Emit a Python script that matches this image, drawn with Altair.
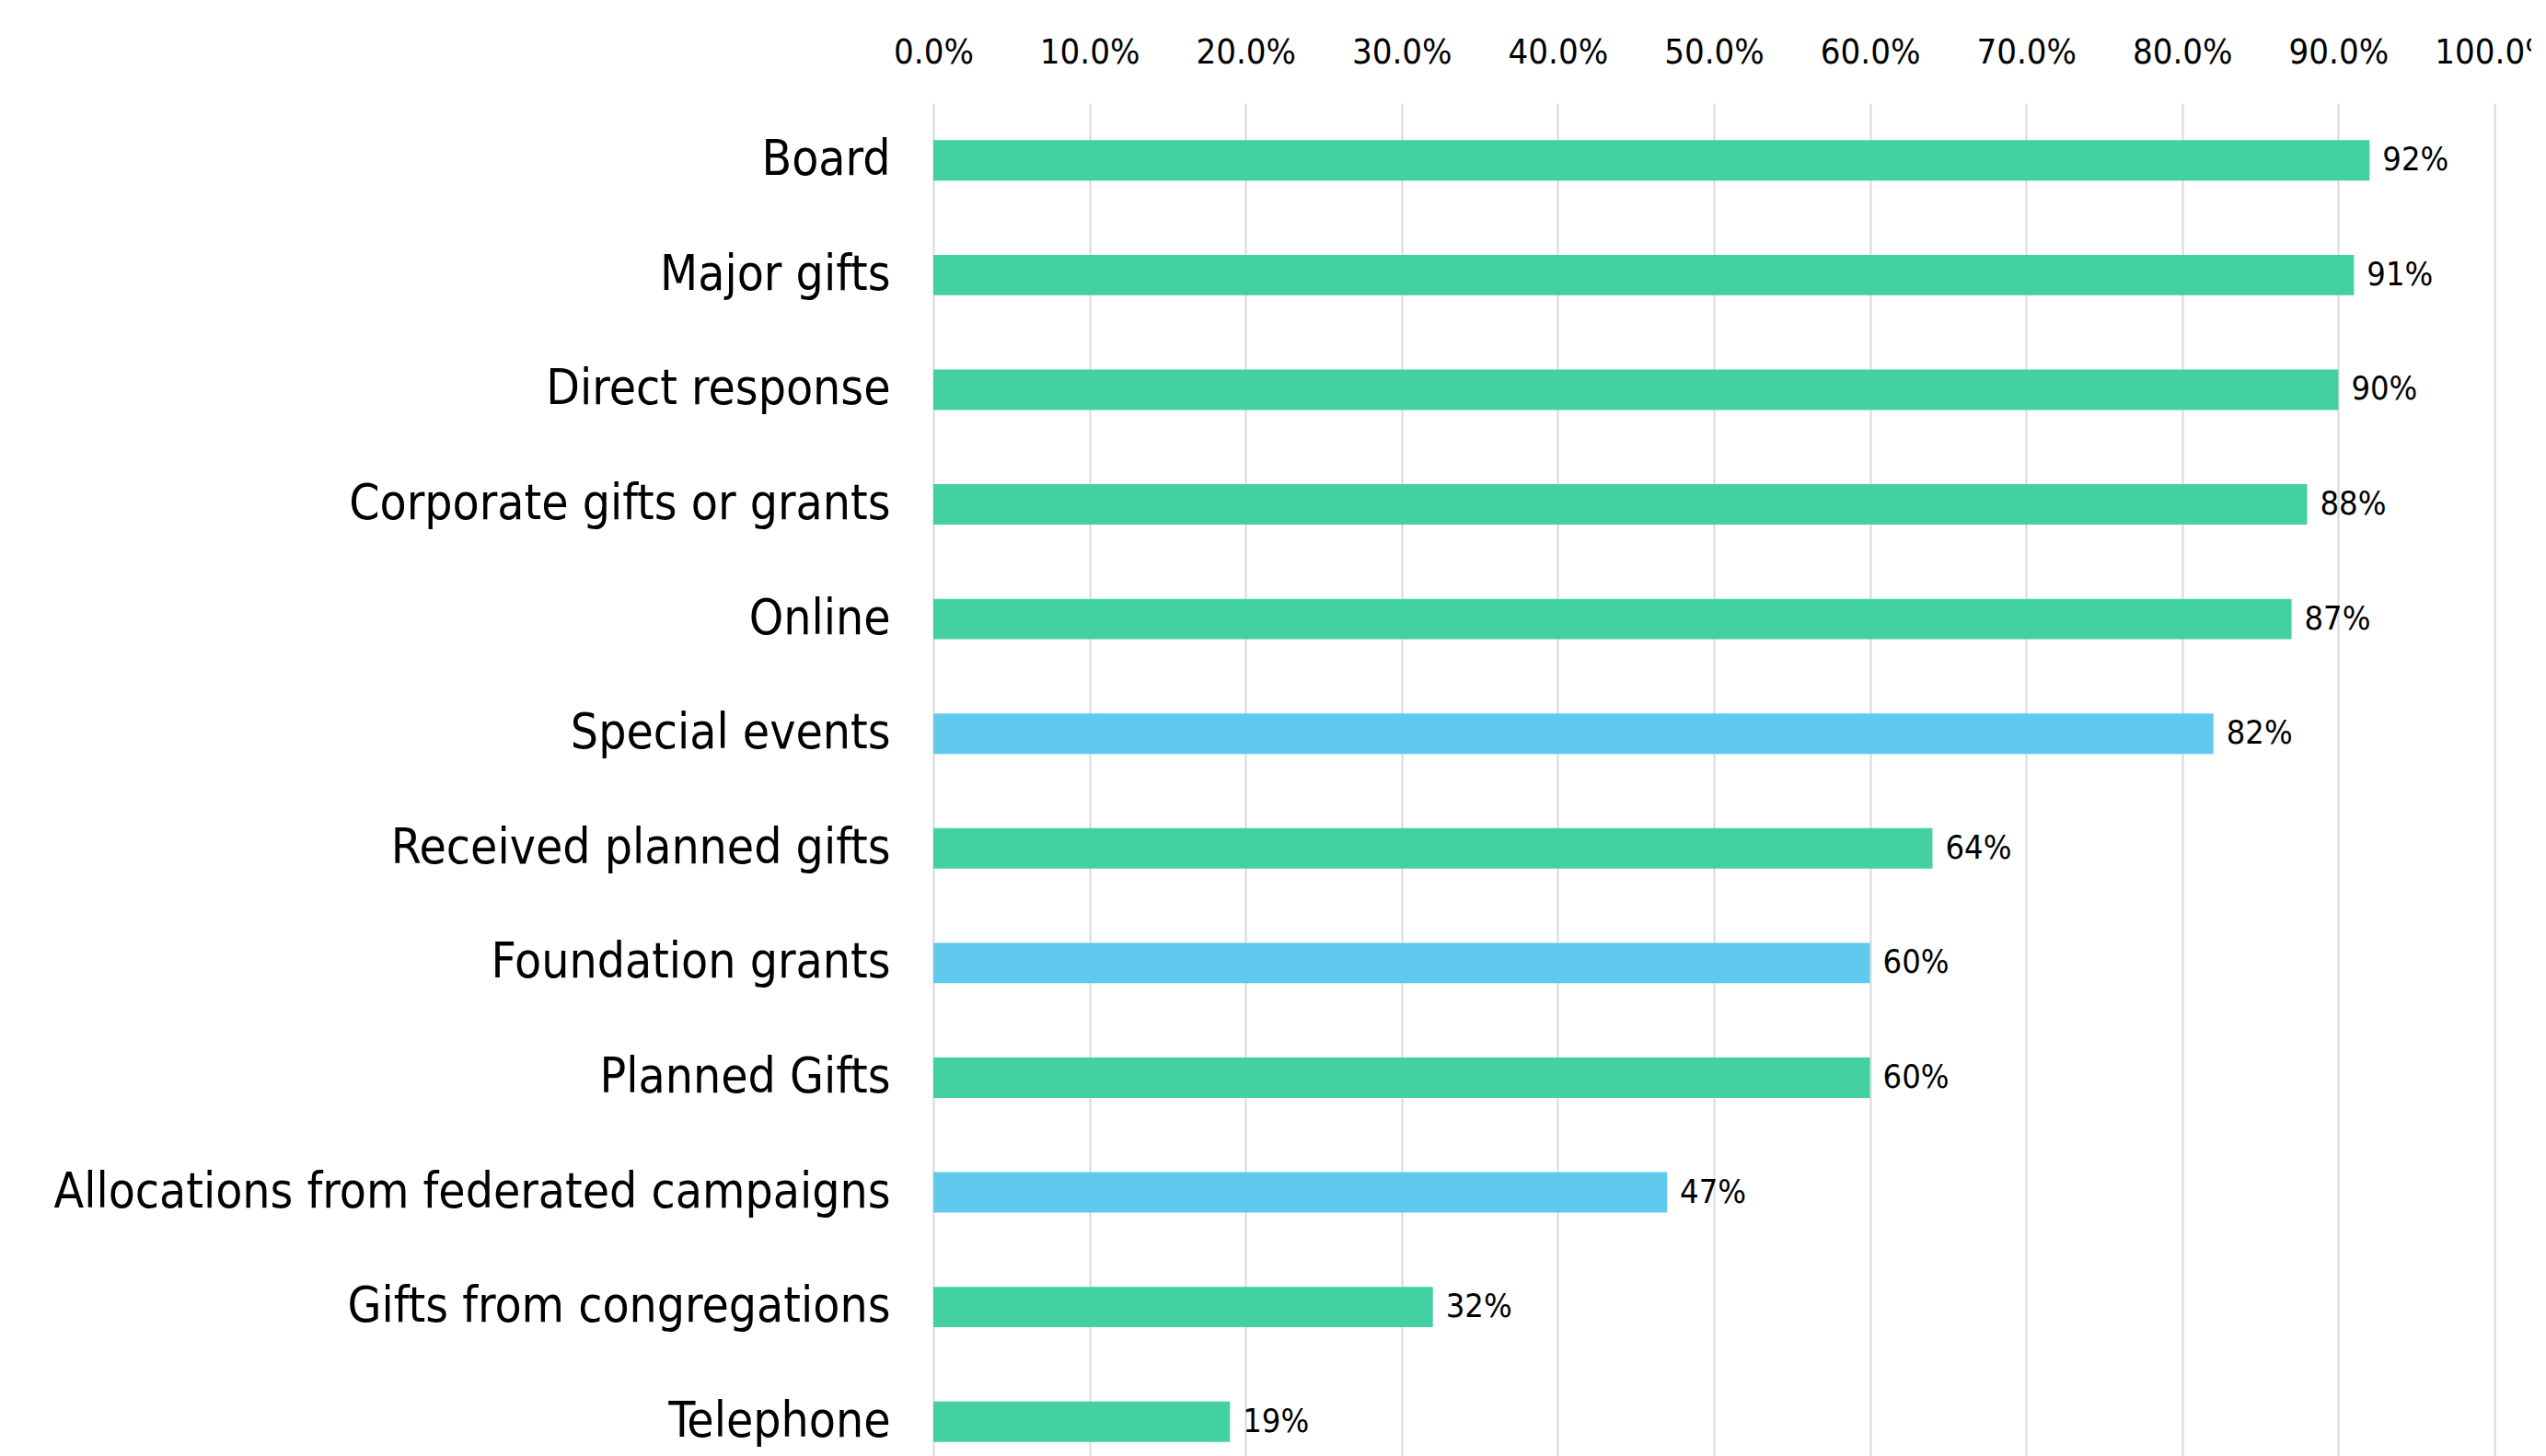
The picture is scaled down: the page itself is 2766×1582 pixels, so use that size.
import altair as alt
import pandas as pd

categories = [
    "Board", "Major gifts", "Direct response", "Corporate gifts or grants",
    "Online", "Special events", "Received planned gifts", "Foundation grants",
    "Planned Gifts", "Allocations from federated campaigns",
    "Gifts from congregations", "Telephone",
]
values = [92, 91, 90, 88, 87, 82, 64, 60, 60, 47, 32, 19]
groups = ["a", "a", "a", "a", "a", "b", "a", "b", "a", "b", "a", "a"]
tick_values = [0, 0.1, 0.2, 0.3, 0.4, 0.5, 0.6, 0.7, 0.8, 0.9, 1.0]

df = pd.DataFrame({
    "cat": categories,
    "val": [v / 100 for v in values],
    "label": [f"{v}%" for v in values],
    "grp": groups,
})

FONT = "DejaVu Sans Condensed, sans-serif"

y_enc = alt.Y("cat:N", sort=categories,
              scale=alt.Scale(paddingInner=0.647, paddingOuter=0.3235),
              axis=alt.Axis(title=None, labelFont=FONT, labelFontSize=53,
                            labelColor="black", labelPadding=47, ticks=False,
                            domain=False, grid=False, labelLimit=2000))
x_enc = alt.X("val:Q", scale=alt.Scale(domain=[0, 1], nice=False),
              axis=alt.Axis(orient="top", title=None, format=".1%",
                            values=tick_values, labelFont=FONT,
                            labelFontSize=38, labelColor="black",
                            labelPadding=36, ticks=False, domain=False,
                            grid=True, gridColor="#d9d9d9", gridWidth=2,
                            labelFlush=False))

bars = alt.Chart(df).mark_bar().encode(
    y=y_enc, x=x_enc,
    color=alt.Color("grp:N", scale=alt.Scale(domain=["a", "b"],
                                             range=["#43D1A3", "#60CAEE"]),
                    legend=None),
)

text = alt.Chart(df).mark_text(align="left", baseline="middle", dx=14,
                               font=FONT, fontSize=36, color="black").encode(
    y=alt.Y("cat:N", sort=categories), x="val:Q", text="label:N"
)

chart = (bars + text).properties(
    width=1696, height=1495,
    padding={"left": 1006, "top": 104, "right": 40, "bottom": 0},
    autosize="none",
).configure_view(stroke=None)

chart.save("out.html", embed_options={"renderer": "svg", "actions": False})
